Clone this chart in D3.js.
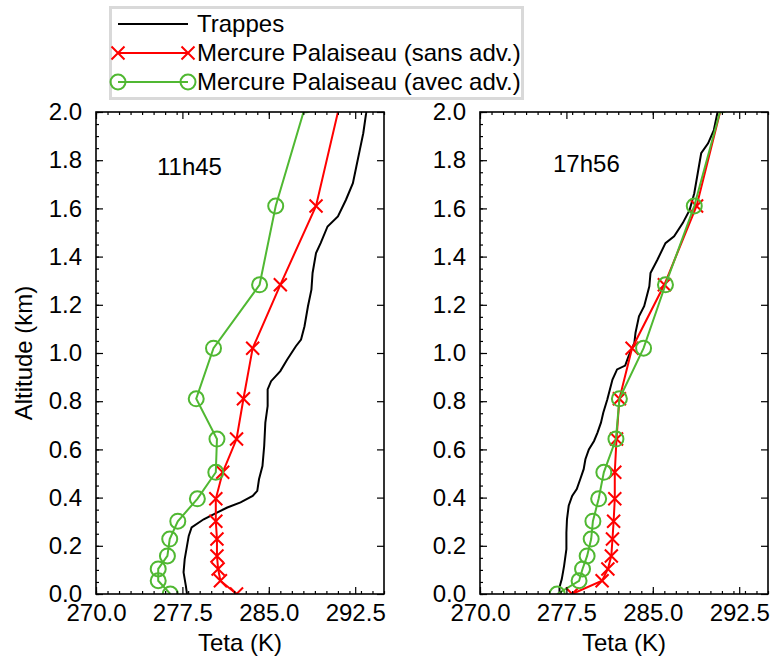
<!DOCTYPE html>
<html>
<head>
<meta charset="utf-8">
<script src="https://cdn.jsdelivr.net/npm/d3@7"></script>
<style>
  body { margin: 0; background: white; }
  svg text { font-family: "Liberation Sans", Arial, sans-serif; fill: black; }
</style>
</head>
<body>
<svg id="chart" width="772" height="662"></svg>
<script>
// Model levels (km) shared by both Mercure runs
var altModel = [0, 0.055, 0.104, 0.158, 0.228, 0.302, 0.395, 0.505, 0.643, 0.81, 1.02, 1.283, 1.61, 2.03];

// 11h45
var sans1145 = [282.2, 280.8, 280.6, 280.5, 280.5, 280.4, 280.4, 281.0, 282.2, 282.8, 283.6, 286.0, 289.1, 291.15];
var avec1145 = [276.45, 275.4, 275.4, 276.2, 276.4, 277.1, 278.8, 280.4, 280.5, 278.7, 280.2, 284.2, 285.6, 288.2];
var trappesAlt1145 = [0, 0.034, 0.09, 0.145, 0.2, 0.241, 0.276, 0.31, 0.338, 0.359, 0.38, 0.407, 0.428, 0.476, 0.531,
  0.614, 0.711, 0.78, 0.849, 0.883, 0.925, 0.973, 1.028, 1.056, 1.111, 1.194, 1.263, 1.332, 1.415, 1.456, 1.525,
  1.567, 1.636, 1.705, 1.774, 1.843, 1.912, 1.995, 2.02];
var trappesTeta1145 = [277.9, 277.8, 277.6, 277.7, 277.9, 278.05, 278.3, 279.35, 280.5, 281.4, 282.55, 283.6, 284.0, 284.15, 284.45,
  284.6, 284.7, 284.9, 284.9, 285.2, 286.0, 286.6, 287.35, 287.8, 288.1, 288.4, 288.7, 288.8, 289.1, 289.5, 290.1,
  291.0, 291.7, 292.3, 292.6, 292.9, 293.2, 293.45, 293.5];

// 17h56
var sans1756 = [278.0, 280.6, 281.1, 281.4, 281.5, 281.6, 281.7, 281.7, 281.85, 282.1, 283.2, 286.0, 288.8, 291.0];
var avec1756 = [276.7, 278.6, 278.9, 279.3, 279.65, 279.8, 280.3, 280.75, 281.8, 282.1, 284.2, 286.1, 288.6, 291.0];
var trappesAlt1756 = [0, 0.028, 0.062, 0.117, 0.186, 0.255, 0.31, 0.366, 0.407, 0.435, 0.476, 0.518, 0.559, 0.6, 0.635,
  0.67, 0.711, 0.752, 0.807, 0.89, 0.932, 0.948, 0.987, 1.042, 1.084, 1.152, 1.194, 1.277, 1.332, 1.387, 1.456,
  1.484, 1.539, 1.594, 1.663, 1.746, 1.829, 1.87, 1.925, 1.995, 2.02];
var trappesTeta1756 = [276.9, 276.9, 277.1, 277.3, 277.5, 277.5, 277.55, 277.7, 278.0, 278.4, 278.7, 279.0, 279.15, 279.45, 279.9,
  280.2, 280.5, 280.7, 281.05, 281.5, 281.9, 282.6, 282.9, 283.4, 283.5, 283.8, 284.25, 284.7, 284.8, 285.4, 286.1,
  286.85, 287.6, 288.2, 288.6, 288.9, 289.2, 289.8, 290.3, 290.6, 290.7];

var xTicks = [270, 277.5, 285, 292.5];
var yTicks = [0, 0.2, 0.4, 0.6, 0.8, 1.0, 1.2, 1.4, 1.6, 1.8, 2.0];
var legendLabels = ["Trappes", "Mercure Palaiseau (sans adv.)", "Mercure Palaiseau (avec adv.)"];

var RED = "#ff0000", GREEN = "#50b832", FONT = 24;
var CROSS = 6.5, RADIUS = 7.5;

var svg = d3.select("#chart");
var plotTop = 112, plotBottom = 594, pw = 288;

var y = d3.scaleLinear().domain([0, 2]).range([plotBottom, plotTop]);

function zip(alt, teta) {
    return alt.map(function(a, i) { return { alt: a, teta: teta[i] }; });
}

function crossPath(s) {
    return "M" + (-s) + "," + (-s) + "L" + s + "," + s + "M" + (-s) + "," + s + "L" + s + "," + (-s);
}

function drawPanel(left, id, tAlt, tTeta, sans, avec, label, yTitle) {
    var x = d3.scaleLinear().domain([270, 295]).range([left, left + pw]);
    var g = svg.append("g");

    g.append("defs").append("clipPath").attr("id", id)
        .append("rect").attr("x", left).attr("y", plotTop).attr("width", pw).attr("height", plotBottom - plotTop);

    var line = d3.line().x(d => x(d.teta)).y(d => y(d.alt));
    var plot = g.append("g").attr("clip-path", "url(#" + id + ")");

    plot.append("path").datum(zip(tAlt, tTeta))
        .attr("d", line).attr("fill", "none").attr("stroke", "black").attr("stroke-width", 2);

    var sansData = zip(altModel, sans);
    plot.append("path").datum(sansData)
        .attr("d", line).attr("fill", "none").attr("stroke", RED).attr("stroke-width", 2);
    plot.selectAll(".cross").data(sansData).enter().append("path")
        .attr("class", "cross")
        .attr("transform", d => "translate(" + x(d.teta) + "," + y(d.alt) + ")")
        .attr("d", crossPath(CROSS)).attr("stroke", RED).attr("stroke-width", 2);

    var avecData = zip(altModel, avec);
    plot.append("path").datum(avecData)
        .attr("d", line).attr("fill", "none").attr("stroke", GREEN).attr("stroke-width", 2);
    plot.selectAll(".circ").data(avecData).enter().append("circle")
        .attr("class", "circ")
        .attr("cx", d => x(d.teta)).attr("cy", d => y(d.alt)).attr("r", RADIUS)
        .attr("fill", "none").attr("stroke", GREEN).attr("stroke-width", 2);

    // axes, ticks pointing inward
    var minorX = d3.range(270, 296, 1);
    var minorY = d3.range(0, 2.001, 0.05);

    g.append("g").attr("transform", "translate(0," + plotBottom + ")")
        .call(d3.axisBottom(x).tickValues(minorX).tickSize(-3).tickFormat(""));
    g.append("g").attr("transform", "translate(0," + plotBottom + ")")
        .call(d3.axisBottom(x).tickValues(xTicks).tickSize(-7).tickPadding(10).tickFormat(d3.format(".1f")));
    g.append("g").attr("transform", "translate(0," + plotTop + ")")
        .call(d3.axisTop(x).tickValues(minorX).tickSize(-3).tickFormat(""));
    g.append("g").attr("transform", "translate(0," + plotTop + ")")
        .call(d3.axisTop(x).tickValues(xTicks).tickSize(-7).tickFormat(""));

    g.append("g").attr("transform", "translate(" + left + ",0)")
        .call(d3.axisLeft(y).tickValues(minorY).tickSize(-3).tickFormat(""));
    g.append("g").attr("transform", "translate(" + left + ",0)")
        .call(d3.axisLeft(y).tickValues(yTicks).tickSize(-7).tickPadding(14).tickFormat(d3.format(".1f")));
    g.append("g").attr("transform", "translate(" + (left + pw) + ",0)")
        .call(d3.axisRight(y).tickValues(yTicks).tickSize(-7).tickFormat(""));

    g.selectAll(".domain").remove();
    g.selectAll(".tick line").attr("stroke", "black").attr("stroke-width", 1.2);
    g.selectAll(".tick text").style("font-size", FONT + "px")
        .style("font-family", "Liberation Sans, Arial, sans-serif").attr("fill", "black");

    g.append("rect").attr("x", left).attr("y", plotTop).attr("width", pw).attr("height", plotBottom - plotTop)
        .attr("fill", "none").attr("stroke", "black").attr("stroke-width", 1.6);

    g.append("text").attr("x", left + pw / 2).attr("y", 651)
        .attr("text-anchor", "middle").style("font-size", FONT + "px").text("Teta (K)");

    g.append("text").attr("x", label.x).attr("y", label.y)
        .style("font-size", FONT + "px").text(label.text);

    if (yTitle) {
        svg.append("text").attr("transform", "translate(32," + ((plotTop + plotBottom) / 2) + ") rotate(-90)")
            .attr("text-anchor", "middle").style("font-size", FONT + "px").text("Altitude (km)");
    }
}

drawPanel(96, "clip1", trappesAlt1145, trappesTeta1145, sans1145, avec1145, { text: "11h45", x: 157, y: 175 }, true);
drawPanel(480, "clip2", trappesAlt1756, trappesTeta1756, sans1756, avec1756, { text: "17h56", x: 553, y: 172 }, false);

// Legend
var lg = svg.append("g");
lg.append("rect").attr("x", 110.5).attr("y", 7.5).attr("width", 412).attr("height", 91)
    .attr("fill", "white").attr("stroke", "#d9d9d9").attr("stroke-width", 3);

var rows = [24, 53, 82];
var colors = ["black", RED, GREEN];
legendLabels.forEach(function(lbl, i) {
    lg.append("line").attr("x1", 118).attr("x2", 188).attr("y1", rows[i]).attr("y2", rows[i])
        .attr("stroke", colors[i]).attr("stroke-width", 2);
    [118, 188].forEach(function(px) {
        if (i === 1) {
            lg.append("path").attr("transform", "translate(" + px + "," + rows[i] + ")")
                .attr("d", crossPath(CROSS)).attr("stroke", RED).attr("stroke-width", 2);
        } else if (i === 2) {
            lg.append("circle").attr("cx", px).attr("cy", rows[i]).attr("r", RADIUS)
                .attr("fill", "none").attr("stroke", GREEN).attr("stroke-width", 2);
        }
    });
    lg.append("text").attr("x", 197).attr("y", rows[i]).attr("dy", "0.35em")
        .style("font-size", FONT + "px").text(lbl);
});
</script>
</body>
</html>
